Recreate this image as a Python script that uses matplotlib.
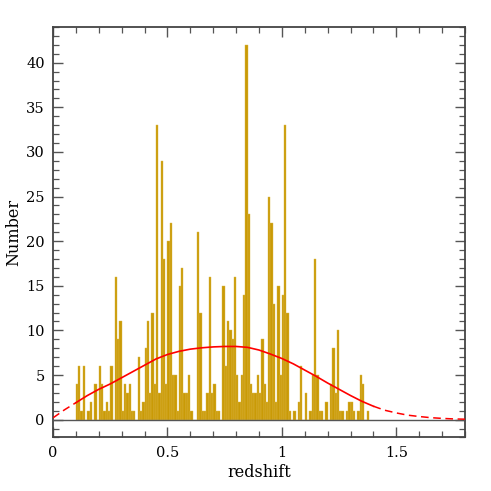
import numpy as np
import matplotlib
matplotlib.use("Agg")
import matplotlib.pyplot as plt
from matplotlib.ticker import MultipleLocator

# ---- data ----
bin_start = 0.10
bin_width = 0.01
counts = [
    4, 6, 1, 6, 0, 1, 2, 0, 4, 0,        # 0.10-0.19
    6, 4, 1, 2, 1, 6, 0, 16, 9, 11,      # 0.20-0.29
    1, 4, 3, 4, 1, 1, 0, 7, 1, 2,        # 0.30-0.39
    8, 11, 3, 12, 4, 33, 3, 29, 18, 4,   # 0.40-0.49
    20, 22, 5, 5, 1, 15, 17, 3, 3, 5,    # 0.50-0.59
    1, 0, 0, 21, 12, 1, 1, 3, 16, 3,     # 0.60-0.69
    4, 1, 1, 0, 15, 6, 11, 10, 9, 16,    # 0.70-0.79
    5, 2, 5, 14, 42, 23, 4, 3, 3, 5,     # 0.80-0.89
    3, 9, 4, 2, 25, 22, 13, 2, 15, 5,    # 0.90-0.99
    14, 33, 12, 1, 0, 1, 0, 2, 6, 0,     # 1.00-1.09
    3, 0, 1, 5, 18, 5, 1, 1, 0, 2,       # 1.10-1.19
    0, 4, 8, 3, 10, 1, 1, 0, 1, 2,       # 1.20-1.29
    2, 1, 0, 1, 5, 4, 0, 1,              # 1.30-1.37
]

curve_z = [0.00, 0.05, 0.10, 0.15, 0.20, 0.25, 0.30, 0.35, 0.40, 0.45,
           0.50, 0.55, 0.60, 0.65, 0.70, 0.75, 0.80, 0.85, 0.90, 0.95,
           1.00, 1.05, 1.10, 1.15, 1.20, 1.25, 1.30, 1.35, 1.40, 1.45,
           1.50, 1.55, 1.60, 1.65, 1.70, 1.75, 1.80]
curve_n = [0.2, 1.1, 1.9, 2.7, 3.4, 4.0, 4.7, 5.4, 6.1, 6.8,
           7.3, 7.65, 7.9, 8.05, 8.15, 8.2, 8.2, 8.1, 7.8, 7.35,
           6.85, 6.25, 5.55, 4.85, 4.1, 3.4, 2.7, 2.05, 1.5, 1.05,
           0.75, 0.5, 0.35, 0.22, 0.14, 0.08, 0.05]
solid_range = (0.10, 1.40)

x_label = "redshift"
y_label = "Number"

# ---- plot ----
plt.rcParams['font.family'] = ['DejaVu Serif']
fig = plt.figure(figsize=(4.91, 4.91), dpi=100)
ax = fig.add_axes([0.108, 0.109, 0.839, 0.836])

edges = bin_start + bin_width * np.arange(len(counts))
ax.bar(edges, counts, width=bin_width, align='edge', color='#C99A06',
       edgecolor='#DDB848', linewidth=0.3, zorder=2)

ax.axhline(0, color='#555555', lw=1.0, zorder=3)

cz = np.array(curve_z)
cn = np.array(curve_n)
lo = cz <= solid_range[0] + 1e-9
hi = cz >= solid_range[1] - 1e-9
mid = (~lo & ~hi) | np.isclose(cz, solid_range[0]) | np.isclose(cz, solid_range[1])
ax.plot(cz[lo], cn[lo], color='red', lw=1.1, ls=(0, (5, 3)), zorder=4)
ax.plot(cz[hi], cn[hi], color='red', lw=1.1, ls=(0, (5, 3)), zorder=4)
ax.plot(cz[mid], cn[mid], color='red', lw=1.2, zorder=4)

ax.set_xlim(0, 1.8)
ax.set_ylim(-2, 44)
ax.xaxis.set_major_locator(MultipleLocator(0.5))
ax.xaxis.set_minor_locator(MultipleLocator(0.1))
ax.yaxis.set_major_locator(MultipleLocator(5))
ax.yaxis.set_minor_locator(MultipleLocator(1))
ax.xaxis.set_major_formatter(matplotlib.ticker.FuncFormatter(lambda v, p: ('%g' % v)))

for s in ax.spines.values():
    s.set_color('#444444')
    s.set_linewidth(1.3)
ax.tick_params(which='both', direction='in', top=True, right=True,
               color='#555555', labelsize=10.5, labelcolor='black')
ax.tick_params(which='major', length=7, width=1.0, pad=6)
ax.tick_params(which='minor', length=4, width=0.9)

ax.set_xlabel(x_label, fontsize=11.5, labelpad=3)
ax.set_ylabel(y_label, fontsize=11.5, labelpad=3)

fig.savefig('out.png', dpi=100)
